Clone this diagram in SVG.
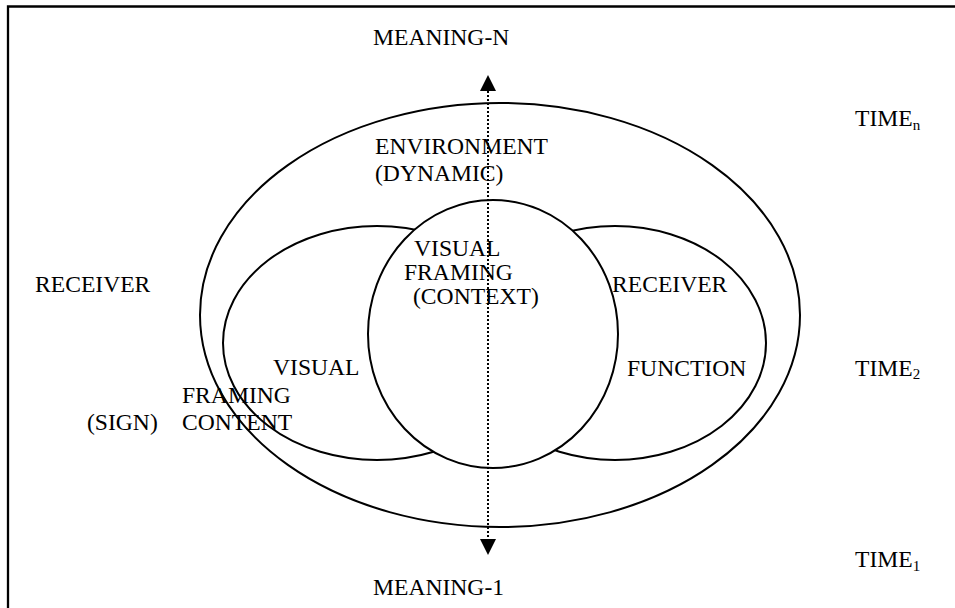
<svg xmlns="http://www.w3.org/2000/svg" width="955" height="608" viewBox="0 0 955 608">
<defs>
<style>
text{font-family:"Liberation Serif","Times New Roman",serif;font-size:23.6px;fill:#000}
.sub{font-size:15px}
.shape{fill:#fff;stroke:#000;stroke-width:2}
.dot{stroke:#000;stroke-width:2;stroke-dasharray:2 2;fill:none}
</style>
</defs>
<rect width="955" height="608" fill="#fff"/>
<path d="M8,608 V6.5 H955" fill="none" stroke="#000" stroke-width="2.3"/>
<g id="environment"><ellipse class="shape" cx="500" cy="315" rx="300" ry="212"/></g>
<g id="visual-sign"><ellipse class="shape" cx="377" cy="343" rx="154" ry="117"/></g>
<g id="receiver-function"><ellipse class="shape" cx="615" cy="343" rx="151" ry="117"/></g>
<g id="context"><ellipse class="shape" cx="493" cy="334" rx="125" ry="134"/></g>
<g id="labels">
<text x="373" y="45">MEANING-N</text>
<text x="373" y="595">MEANING-1</text>
<text x="855" y="126">TIME<tspan class="sub" dy="4">n</tspan></text>
<text x="855" y="376">TIME<tspan class="sub" dy="3">2</tspan></text>
<text x="855" y="567">TIME<tspan class="sub" dy="4">1</tspan></text>
<text x="375" y="154">ENVIRONMENT</text>
<text x="375" y="181">(DYNAMIC)</text>
<text x="35" y="292">RECEIVER</text>
<text x="273" y="375">VISUAL</text>
<text x="182" y="403">FRAMING</text>
<text x="182" y="430">CONTENT</text>
<text x="87" y="430">(SIGN)</text>
<text x="414" y="256">VISUAL</text>
<text x="404" y="280">FRAMING</text>
<text x="413" y="304">(CONTEXT)</text>
<text x="612" y="292">RECEIVER</text>
<text x="627" y="376">FUNCTION</text>
</g>
<g id="connectors">
<line class="dot" x1="488" y1="91" x2="488" y2="539"/>
<polygon points="488,75 480,91 496,91" fill="#000"/>
<polygon points="488,555 480,539 496,539" fill="#000"/>
</g>
</svg>
